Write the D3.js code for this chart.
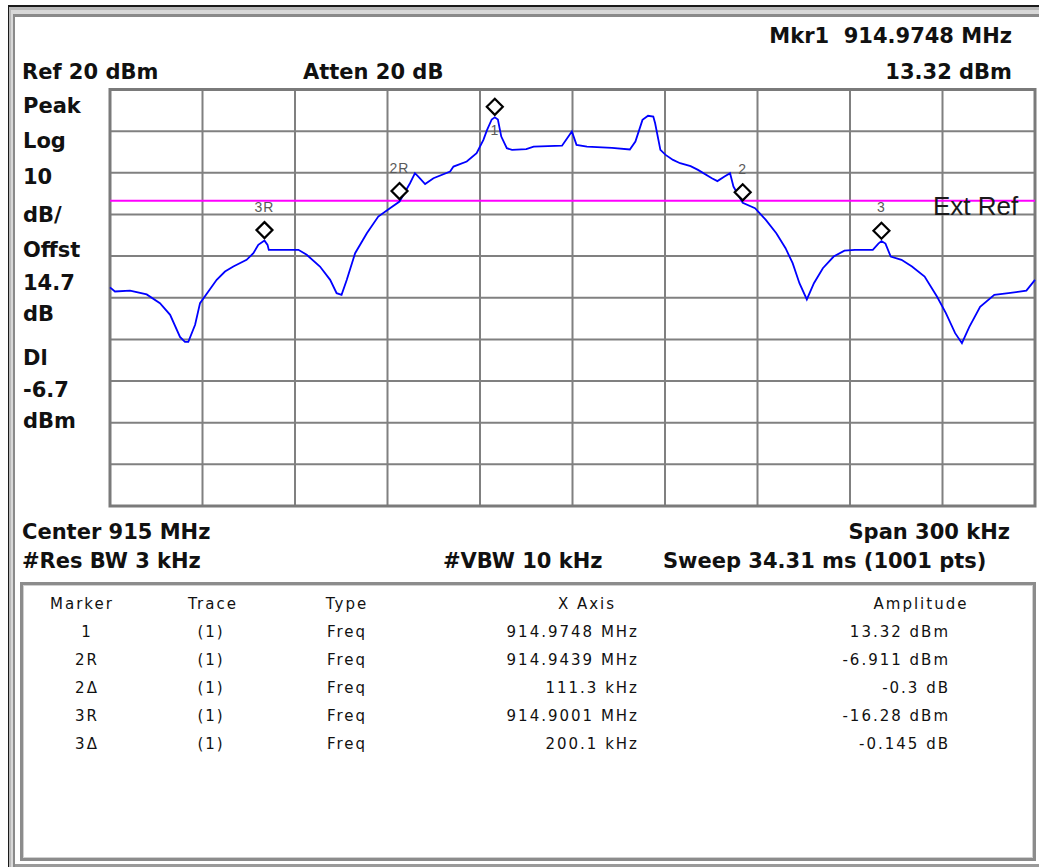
<!DOCTYPE html>
<html lang="en">
	<head>
		<meta charset="UTF-8">
		<title>Spectrum Analyzer Trace</title>
		<script src="https://d3js.org/d3.v7.min.js"></script>
		<style>
			body {
				margin: 0;
				background: white;
			}

			.hdr {
				font-family: "DejaVu Sans", sans-serif;
				font-weight: bold;
				font-size: 21px;
				fill: #111;
			}

			.tbl {
				font-family: "DejaVu Sans", sans-serif;
				font-size: 15px;
				letter-spacing: 2px;
				fill: #111;
			}

			.mkLabel {
				font-family: "Liberation Sans", sans-serif;
				font-size: 14px;
				letter-spacing: 1px;
				fill: #5a5a5a;
				text-anchor: middle;
			}

			.grid line {
				stroke: #808080;
				stroke-width: 2;
			}
		</style>
	</head>
	<body>
		<div id="chart"></div>
		<script>
			// analyzer settings
			const centerMHz = 915
			const spanKHz = 300
			const refLevel = 20
			const dbPerDiv = 10
			const divisions = 10
			const displayLine = -6.7

			// trace: [offset from center in kHz, amplitude in dBm]
			const tracePoints = [
				[-150, -27.5], [-149.7, -27.7], [-148.4, -28.5], [-143.5, -28.3], [-138.1, -29.2],
				[-133.8, -31.3], [-130.5, -34.1], [-127.3, -39.4], [-125.7, -40.6], [-124.6, -40.6],
				[-122.4, -36.5], [-120.8, -31.3], [-115.4, -25.7], [-112.7, -23.7], [-110.0, -22.5],
				[-105.7, -20.9], [-103.5, -19.3], [-101.9, -17.3], [-99.9, -16.28], [-98.9, -17.3],
				[-98.5, -18.5], [-88.9, -18.5], [-86.2, -19.7], [-81.9, -22.5], [-78.6, -25.7],
				[-76.5, -28.9], [-74.9, -29.3], [-73.2, -25.7], [-70.5, -19.3], [-66.7, -14.5],
				[-63.0, -10.5], [-59.2, -8.5], [-56.1, -6.9], [-52.7, -2.5], [-51.1, -0.1],
				[-50.0, -0.9], [-47.8, -2.7], [-45.1, -1.3], [-39.7, 0.3], [-38.6, 1.5],
				[-34.3, 2.7], [-31.1, 4.7], [-28.9, 7.9], [-27.7, 10.3], [-26.2, 12.8],
				[-25.2, 13.32], [-24.2, 12.8], [-23.1, 8.7], [-21.3, 5.9], [-19.6, 5.5],
				[-15.0, 5.7], [-12.6, 6.3], [-3.4, 6.5], [-0.2, 9.9], [1.3, 6.7],
				[4.7, 6.3], [12.8, 6.0], [18.6, 5.6], [20.4, 7.5], [22.7, 12.7],
				[24.5, 13.7], [26.2, 13.5], [26.8, 11.9], [28.5, 5.5], [30.2, 4.3],
				[32.6, 3.1], [34.9, 2.3], [38.3, 1.6], [40.7, 0.7], [45.2, -1.3],
				[47.0, -2.0], [49.3, -0.9], [51.1, -0.1], [52.2, -3.3], [55.2, -7.2],
				[59.2, -8.5], [62.7, -11.3], [66.1, -14.5], [69.1, -18.1], [71.4, -21.7],
				[73.6, -26.5], [76.0, -30.4], [78.3, -26.5], [81.2, -22.9], [84.7, -20.1],
				[88.2, -18.7], [91.6, -18.5], [97.4, -18.5], [99.2, -17.0], [100.2, -16.4],
				[101.5, -17.0], [103.2, -20.1], [106.7, -20.9], [110.1, -22.5], [114.2, -24.9],
				[118.2, -29.7], [121.1, -33.7], [124.1, -38.5], [126.3, -40.9], [128.7, -37.0],
				[132.2, -32.2], [136.8, -29.3], [141.4, -28.9], [147.2, -28.3], [150, -25.7]
			]

			// marker table
			const markerNames = ["1", "2R", "2\u0394", "3R", "3\u0394"]
			const markerTrace = ["(1)", "(1)", "(1)", "(1)", "(1)"]
			const markerType = ["Freq", "Freq", "Freq", "Freq", "Freq"]
			const markerXAxis = ["914.9748 MHz", "914.9439 MHz", "111.3 kHz", "914.9001 MHz", "200.1 kHz"]
			const markerAmp = ["13.32 dBm", "-6.911 dBm", "-0.3 dB", "-16.28 dBm", "-0.145 dB"]

			// markers drawn on the trace (deltas are relative to their reference)
			const plotMarkers = [
				{ label: "1", mhz: 914.9748, dbm: 13.32 },
				{ label: "2R", mhz: 914.9439, dbm: -6.911 },
				{ label: "2", mhz: 914.9439 + 0.1113, dbm: -6.911 - 0.3 },
				{ label: "3R", mhz: 914.9001, dbm: -16.28 },
				{ label: "3", mhz: 914.9001 + 0.2001, dbm: -16.28 - 0.145 }
			]

			const leftLabels = ["Peak", "Log", "10", "dB/", "Offst", "14.7", "dB", "Dl", "-6.7", "dBm"]
			const leftBaselines = [113, 148, 184, 222, 257, 290, 321, 365, 397, 428]

			const W = 1039, H = 867
			const plot = { left: 110, top: 89.5, right: 1035, bottom: 506 }

			const svg = d3.select("#chart").append("svg")
				.attr("width", W)
				.attr("height", H)

			svg.append("rect").attr("width", W).attr("height", H).attr("fill", "white")

			// window frame
			svg.append("rect").attr("x", 8).attr("y", 5).attr("width", W).attr("height", H).attr("fill", "#1a1a1a")
			svg.append("rect").attr("x", 9).attr("y", 7).attr("width", W).attr("height", H).attr("fill", "#b8b8b8")
			svg.append("rect").attr("x", 11).attr("y", 10).attr("width", W).attr("height", H).attr("fill", "#d8d8d8")
			svg.append("rect").attr("x", 13).attr("y", 14).attr("width", W).attr("height", H).attr("fill", "#8a8a8a")
			svg.append("rect").attr("x", 15).attr("y", 17).attr("width", W).attr("height", 847).attr("fill", "white")
			svg.append("rect").attr("x", 15).attr("y", 864).attr("width", W).attr("height", 3).attr("fill", "#9a9a9a")

			const x = d3.scaleLinear().domain([-spanKHz / 2, spanKHz / 2]).range([plot.left, plot.right])
			const y = d3.scaleLinear().domain([refLevel - dbPerDiv * divisions, refLevel]).range([plot.bottom, plot.top])

			// grid: one line per division
			const xDivs = d3.range(1, divisions).map(i => -spanKHz / 2 + i * spanKHz / divisions)
			const yDivs = d3.range(1, divisions).map(i => refLevel - i * dbPerDiv)
			const grid = svg.append("g").classed("grid", true)
			grid.selectAll(".v")
				.data(xDivs)
				.join("line")
				.attr("x1", d => x(d)).attr("x2", d => x(d))
				.attr("y1", plot.top).attr("y2", plot.bottom)
			grid.selectAll(".h")
				.data(yDivs)
				.join("line")
				.attr("x1", plot.left).attr("x2", plot.right)
				.attr("y1", d => y(d)).attr("y2", d => y(d))

			svg.append("rect")
				.attr("x", plot.left).attr("y", plot.top)
				.attr("width", plot.right - plot.left).attr("height", plot.bottom - plot.top)
				.attr("fill", "none").attr("stroke", "#7a7a7a").attr("stroke-width", 3)

			// display line
			svg.append("line")
				.attr("x1", plot.left).attr("x2", plot.right)
				.attr("y1", y(displayLine)).attr("y2", y(displayLine))
				.attr("stroke", "#ff00ff").attr("stroke-width", 2)

			svg.append("text")
				.attr("x", 933).attr("y", 215)
				.attr("font-family", "Liberation Sans, sans-serif")
				.attr("font-size", 26)
				.attr("fill", "#1a1a1a")
				.text("Ext Ref")

			// trace
			const line = d3.line().x(d => x(d[0])).y(d => y(d[1]))
			svg.append("path")
				.datum(tracePoints)
				.attr("d", line)
				.attr("fill", "none")
				.attr("stroke", "#0000ff")
				.attr("stroke-width", 1.8)

			// markers
			const mk = svg.append("g").selectAll("g")
				.data(plotMarkers)
				.join("g")
				.attr("transform", d => `translate(${x((d.mhz - centerMHz) * 1000)},${y(d.dbm)})`)
			mk.append("path")
				.attr("d", "M0,-18.5L8,-10.5L0,-2.5L-8,-10.5Z")
				.attr("fill", "white")
				.attr("stroke", "black")
				.attr("stroke-width", 2.2)
			mk.append("text")
				.classed("mkLabel", true)
				.attr("y", d => (y(d.dbm) - 29 < plot.top) ? 18 : -29)
				.text(d => d.label)

			// header and footer annotations
			const headers = [
				{ t: "Mkr1  914.9748 MHz", x: 1012, y: 43, a: "end" },
				{ t: "Ref 20 dBm", x: 22, y: 79, a: "start" },
				{ t: "Atten 20 dB", x: 303, y: 79, a: "start" },
				{ t: "13.32 dBm", x: 1012, y: 79, a: "end" },
				{ t: "Center 915 MHz", x: 22, y: 539, a: "start" },
				{ t: "Span 300 kHz", x: 1010, y: 539, a: "end" },
				{ t: "#Res BW 3 kHz", x: 22, y: 568, a: "start" },
				{ t: "#VBW 10 kHz", x: 443, y: 568, a: "start" },
				{ t: "Sweep 34.31 ms (1001 pts)", x: 663, y: 568, a: "start" }
			]
			svg.append("g").selectAll("text")
				.data(headers)
				.join("text")
				.classed("hdr", true)
				.attr("x", d => d.x).attr("y", d => d.y)
				.attr("text-anchor", d => d.a)
				.attr("xml:space", "preserve")
				.style("white-space", "pre")
				.text(d => d.t)

			svg.append("g").selectAll("text")
				.data(leftLabels)
				.join("text")
				.classed("hdr", true)
				.attr("x", 23)
				.attr("y", (d, i) => leftBaselines[i])
				.text(d => d)

			// marker table box
			svg.append("rect")
				.attr("x", 21.5).attr("y", 583.5).attr("width", 1013).attr("height", 276)
				.attr("fill", "white").attr("stroke", "#8c8c8c").attr("stroke-width", 3)
			svg.append("rect")
				.attr("x", 23.5).attr("y", 585.5).attr("width", 1009).attr("height", 272)
				.attr("fill", "none").attr("stroke", "#d0d0d0").attr("stroke-width", 1)

			const cols = [
				{ head: "Marker", hx: 82, vals: markerNames, vx: 87, a: "middle" },
				{ head: "Trace", hx: 213, vals: markerTrace, vx: 211, a: "middle" },
				{ head: "Type", hx: 347, vals: markerType, vx: 327, a: "start" },
				{ head: "X Axis", hx: 587, vals: markerXAxis, vx: 639, a: "end" },
				{ head: "Amplitude", hx: 921, vals: markerAmp, vx: 950, a: "end" }
			]
			const rowY = d3.scaleLinear().domain([0, 1]).range([637, 665])
			const tbl = svg.append("g")
			cols.forEach(function (c) {
				tbl.append("text")
					.classed("tbl", true)
					.attr("x", c.hx).attr("y", 609)
					.attr("text-anchor", "middle")
					.text(c.head)
				tbl.selectAll(null)
					.data(c.vals)
					.join("text")
					.classed("tbl", true)
					.attr("x", c.vx)
					.attr("y", (d, i) => rowY(i))
					.attr("text-anchor", c.a)
					.text(d => d)
			})
		</script>
	</body>
</html>
